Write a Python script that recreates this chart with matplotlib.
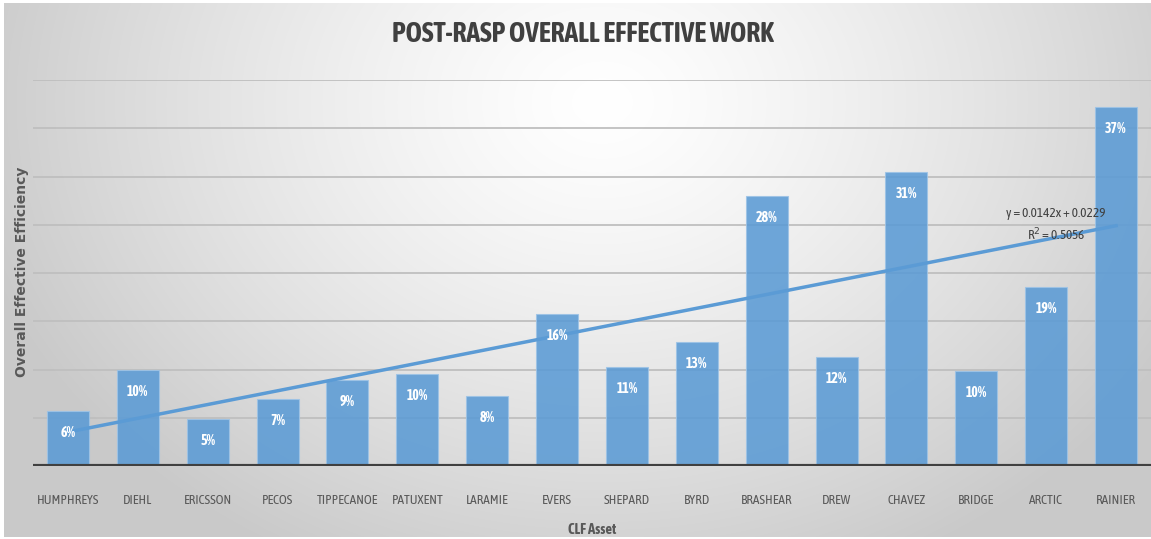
import numpy as np
import matplotlib
matplotlib.use("Agg")
import matplotlib.pyplot as plt
from matplotlib import font_manager

# chart values
assets = ["HUMPHREYS", "DIEHL", "ERICSSON", "PECOS", "TIPPECANOE", "PATUXENT",
          "LARAMIE", "EVERS", "SHEPARD", "BYRD", "BRASHEAR", "DREW", "CHAVEZ",
          "BRIDGE", "ARCTIC", "RAINIER"]
efficiency = [0.057, 0.100, 0.049, 0.069, 0.089, 0.095, 0.073, 0.158, 0.103,
              0.128, 0.280, 0.1125, 0.305, 0.098, 0.185, 0.372]
bar_labels = ["6%", "10%", "5%", "7%", "9%", "10%", "8%", "16%", "11%", "13%",
              "28%", "12%", "31%", "10%", "19%", "37%"]
trend_text = "y = 0.0142x + 0.0229\nR$^2$ = 0.5056"

TITLE = "POST-RASP OVERALL EFFECTIVE WORK"
XLABEL = "CLF Asset"
YLABEL = "Overall Effective Efficiency"

BAR_COLOR = "#5b9bd5"
TEXT_GRAY = "#595959"


def _weight(w):
    if isinstance(w, str):
        return {"light": 300, "normal": 400, "regular": 400, "medium": 500,
                "semibold": 600, "demibold": 600, "bold": 700,
                "heavy": 800, "black": 900}.get(w.lower(), 400)
    return int(w)


def pick_narrow_font():
    """ Find a condensed sans family, preferring one that has a bold face. """
    fams = {}
    for f in font_manager.fontManager.ttflist:
        if "Narrow" in f.name or "Condensed" in f.name:
            fams.setdefault(f.name, set()).add(_weight(f.weight))
    with_bold = [n for n, ws in fams.items() if max(ws) >= 600]
    if with_bold:
        return sorted(with_bold)[0]
    if fams:
        return sorted(fams)[0]
    return "Roboto"


NARROW = pick_narrow_font()


def draw_background(fig):
    """ Radial light-gray gradient behind the chart, like the Excel chart area. """
    w, h = 1151, 539
    yy, xx = np.mgrid[0:h, 0:w]
    d = np.sqrt(((xx - 600) / 650.0) ** 2 + ((yy - 100) / 520.0) ** 2)
    shade = 1.0 - 0.21 * np.clip(d, 0, 1) ** 1.3
    bg = fig.add_axes([4 / w, 2 / h, 1 - 4 / w, 1 - 5 / h], zorder=-10)
    bg.imshow(np.dstack([shade] * 3), aspect="auto", extent=(0, 1, 0, 1))
    bg.axis("off")


def main():
    fig = plt.figure(figsize=(11.51, 5.39), dpi=100, facecolor="white")
    draw_background(fig)

    ax = fig.add_axes([33 / 1151, 1 - 466 / 539, 1 - 33 / 1151, (466 - 80) / 539])
    ax.patch.set_alpha(0)

    x = np.arange(1, len(assets) + 1)
    bars = ax.bar(x, efficiency, width=0.6, color=BAR_COLOR, alpha=0.88,
                  edgecolor="#9dc3e6", linewidth=0.8, zorder=2)

    for b, lab in zip(bars, bar_labels):
        ax.annotate(lab, (b.get_x() + b.get_width() / 2, b.get_height()),
                    xytext=(0, -22), textcoords="offset pixels",
                    ha="center", va="center", color="white", fontsize=10,
                    fontweight="bold", family=NARROW, zorder=4)

    # linear trendline fitted through the bars
    slope, intercept = np.polyfit(x, efficiency, 1)
    ax.plot([x[0], x[-1]], [slope * x[0] + intercept, slope * x[-1] + intercept],
            color=BAR_COLOR, linewidth=2.5, zorder=3)
    ax.text(15.14, 0.25, trend_text, ha="center", va="center", fontsize=9.5,
            color="#404040", family=NARROW, linespacing=1.5, zorder=5)

    ax.set_xlim(0.5, len(assets) + 0.5)
    ax.set_ylim(0, 0.40)
    ax.set_yticks(np.arange(0.05, 0.401, 0.05))
    ax.yaxis.grid(True, color="#bfbfbf", linewidth=1.3, zorder=0)
    ax.set_axisbelow(True)
    ax.tick_params(axis="y", length=0, labelleft=False)
    ax.axhline(0, color="#404040", linewidth=3, zorder=5)
    for s in ax.spines.values():
        s.set_visible(False)

    ax.set_xticks(x)
    ax.set_xticklabels(assets, family=NARROW, fontsize=9.5, color=TEXT_GRAY)
    ax.tick_params(axis="x", length=0, pad=20)
    ax.set_xlabel(XLABEL, family=NARROW, fontsize=10.5, fontweight="bold",
                  color=TEXT_GRAY, labelpad=12)

    fig.text(22 / 1151, 1 - 272 / 539, YLABEL, rotation=90, ha="center",
             va="center", fontsize=10, fontweight="bold", color=TEXT_GRAY,
             family="DejaVu Sans")
    fig.text(583 / 1151, 1 - 35 / 539, TITLE, ha="center", va="center",
             fontsize=20, fontweight="bold", color="#404040", family=NARROW)

    fig.savefig("out.png", dpi=100)


if __name__ == "__main__":
    main()
